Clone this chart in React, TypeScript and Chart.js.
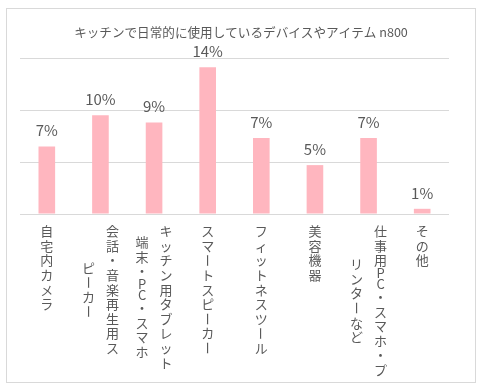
import React, { useEffect, useRef } from "react";
import { Chart, registerables } from "chart.js";

Chart.register(...registerables);

const titleText = "キッチンで日常的に使用しているデバイスやアイテム n800";
const categories: string[][] = [
  ["自宅内カメラ"],
  ["会話・音楽再生用ス", "ピーカー"],
  ["キッチン用タブレット", "端末・PC・スマホ"],
  ["スマートスピーカー"],
  ["フィットネスツール"],
  ["美容機器"],
  ["仕事用PC・スマホ・プ", "リンターなど"],
  ["その他"],
];
const values = [6.5, 9.5, 8.8, 14.1, 7.3, 4.7, 7.3, 0.5];
const yMin = 0;
const yMax = 15;
const yStep = 5;

const TEXT = "#595959";
const JP = '"Noto Sans CJK JP", "Noto Sans", sans-serif';

const FULL_PITCH = 14.6;
const HALF_PITCH = 11;
const COL_GAP = 24;

function charPitch(c: string) {
  return /[\x20-\x7e]/.test(c) ? HALF_PITCH : FULL_PITCH;
}

function colHeight(s: string) {
  let h = 0;
  for (const c of Array.from(s)) h += charPitch(c);
  return h;
}

const customPlugin = {
  id: "customDraw",
  beforeDraw(chart: any) {
    const ctx = chart.ctx;
    ctx.save();
    ctx.strokeStyle = "#d9d9d9";
    ctx.lineWidth = 1;
    ctx.strokeRect(6.5, 8.5, 469, 374);
    ctx.restore();
  },
  afterDatasetsDraw(chart: any) {
    const ctx = chart.ctx;
    const xs = chart.scales.x;
    const area = chart.chartArea;
    ctx.save();
    ctx.fillStyle = TEXT;
    ctx.textAlign = "center";
    ctx.textBaseline = "middle";

    // title
    ctx.font = `12.6px ${JP}`;
    ctx.fillText(titleText, chart.width / 2, 32);

    // data labels
    ctx.font = `15px ${JP}`;
    const meta = chart.getDatasetMeta(0);
    meta.data.forEach((bar: any, i: number) => {
      ctx.fillText(Math.round(values[i]) + "%", bar.x, bar.y - 16);
    });

    // vertical category labels
    ctx.font = `13px ${JP}`;
    const top0 = area.bottom + 10;
    categories.forEach((cols, i) => {
      const cx = xs.getPixelForValue(i);
      const n = cols.length;
      const heights = cols.map(colHeight);
      const maxH = Math.max(...heights);
      cols.forEach((col, j) => {
        const x = cx + ((n - 1) / 2) * COL_GAP - j * COL_GAP;
        let y = top0 + (maxH - heights[j]) / 2;
        for (const c of Array.from(col)) {
          const p = charPitch(c);
          const yc = y + p / 2;
          if (c === "ー") {
            ctx.save();
            ctx.translate(x, yc);
            ctx.rotate(Math.PI / 2);
            ctx.fillText(c, 0, 0);
            ctx.restore();
          } else {
            ctx.fillText(c, x, yc);
          }
          y += p;
        }
      });
    });
    ctx.restore();
  },
};

export default function App() {
  const ref = useRef<HTMLCanvasElement | null>(null);

  useEffect(() => {
    document.body.style.margin = "0";
    const canvas = ref.current;
    if (!canvas) return;
    const chart = new Chart(canvas, {
      type: "bar",
      data: {
        labels: categories.map((c) => c.join("")),
        datasets: [
          {
            data: values,
            backgroundColor: "#FFB6BF",
            borderWidth: 0,
            barPercentage: 0.31,
            categoryPercentage: 1,
          },
        ],
      },
      options: {
        responsive: false,
        animation: false,
        devicePixelRatio: 1,
        layout: { padding: { left: 20, right: 33, top: 58, bottom: 178 } },
        plugins: {
          legend: { display: false },
          title: { display: false },
          tooltip: { enabled: false },
        },
        scales: {
          x: { display: false },
          y: {
            display: true,
            min: yMin,
            max: yMax,
            ticks: { display: false, stepSize: yStep },
            border: { display: false },
            grid: { color: "#d9d9d9", lineWidth: 1, drawTicks: false },
          },
        },
      },
      plugins: [customPlugin],
    });
    return () => chart.destroy();
  }, []);

  return (
    <div style={{ width: 482, height: 392, background: "#fff" }}>
      <canvas ref={ref} width={482} height={392} />
    </div>
  );
}
